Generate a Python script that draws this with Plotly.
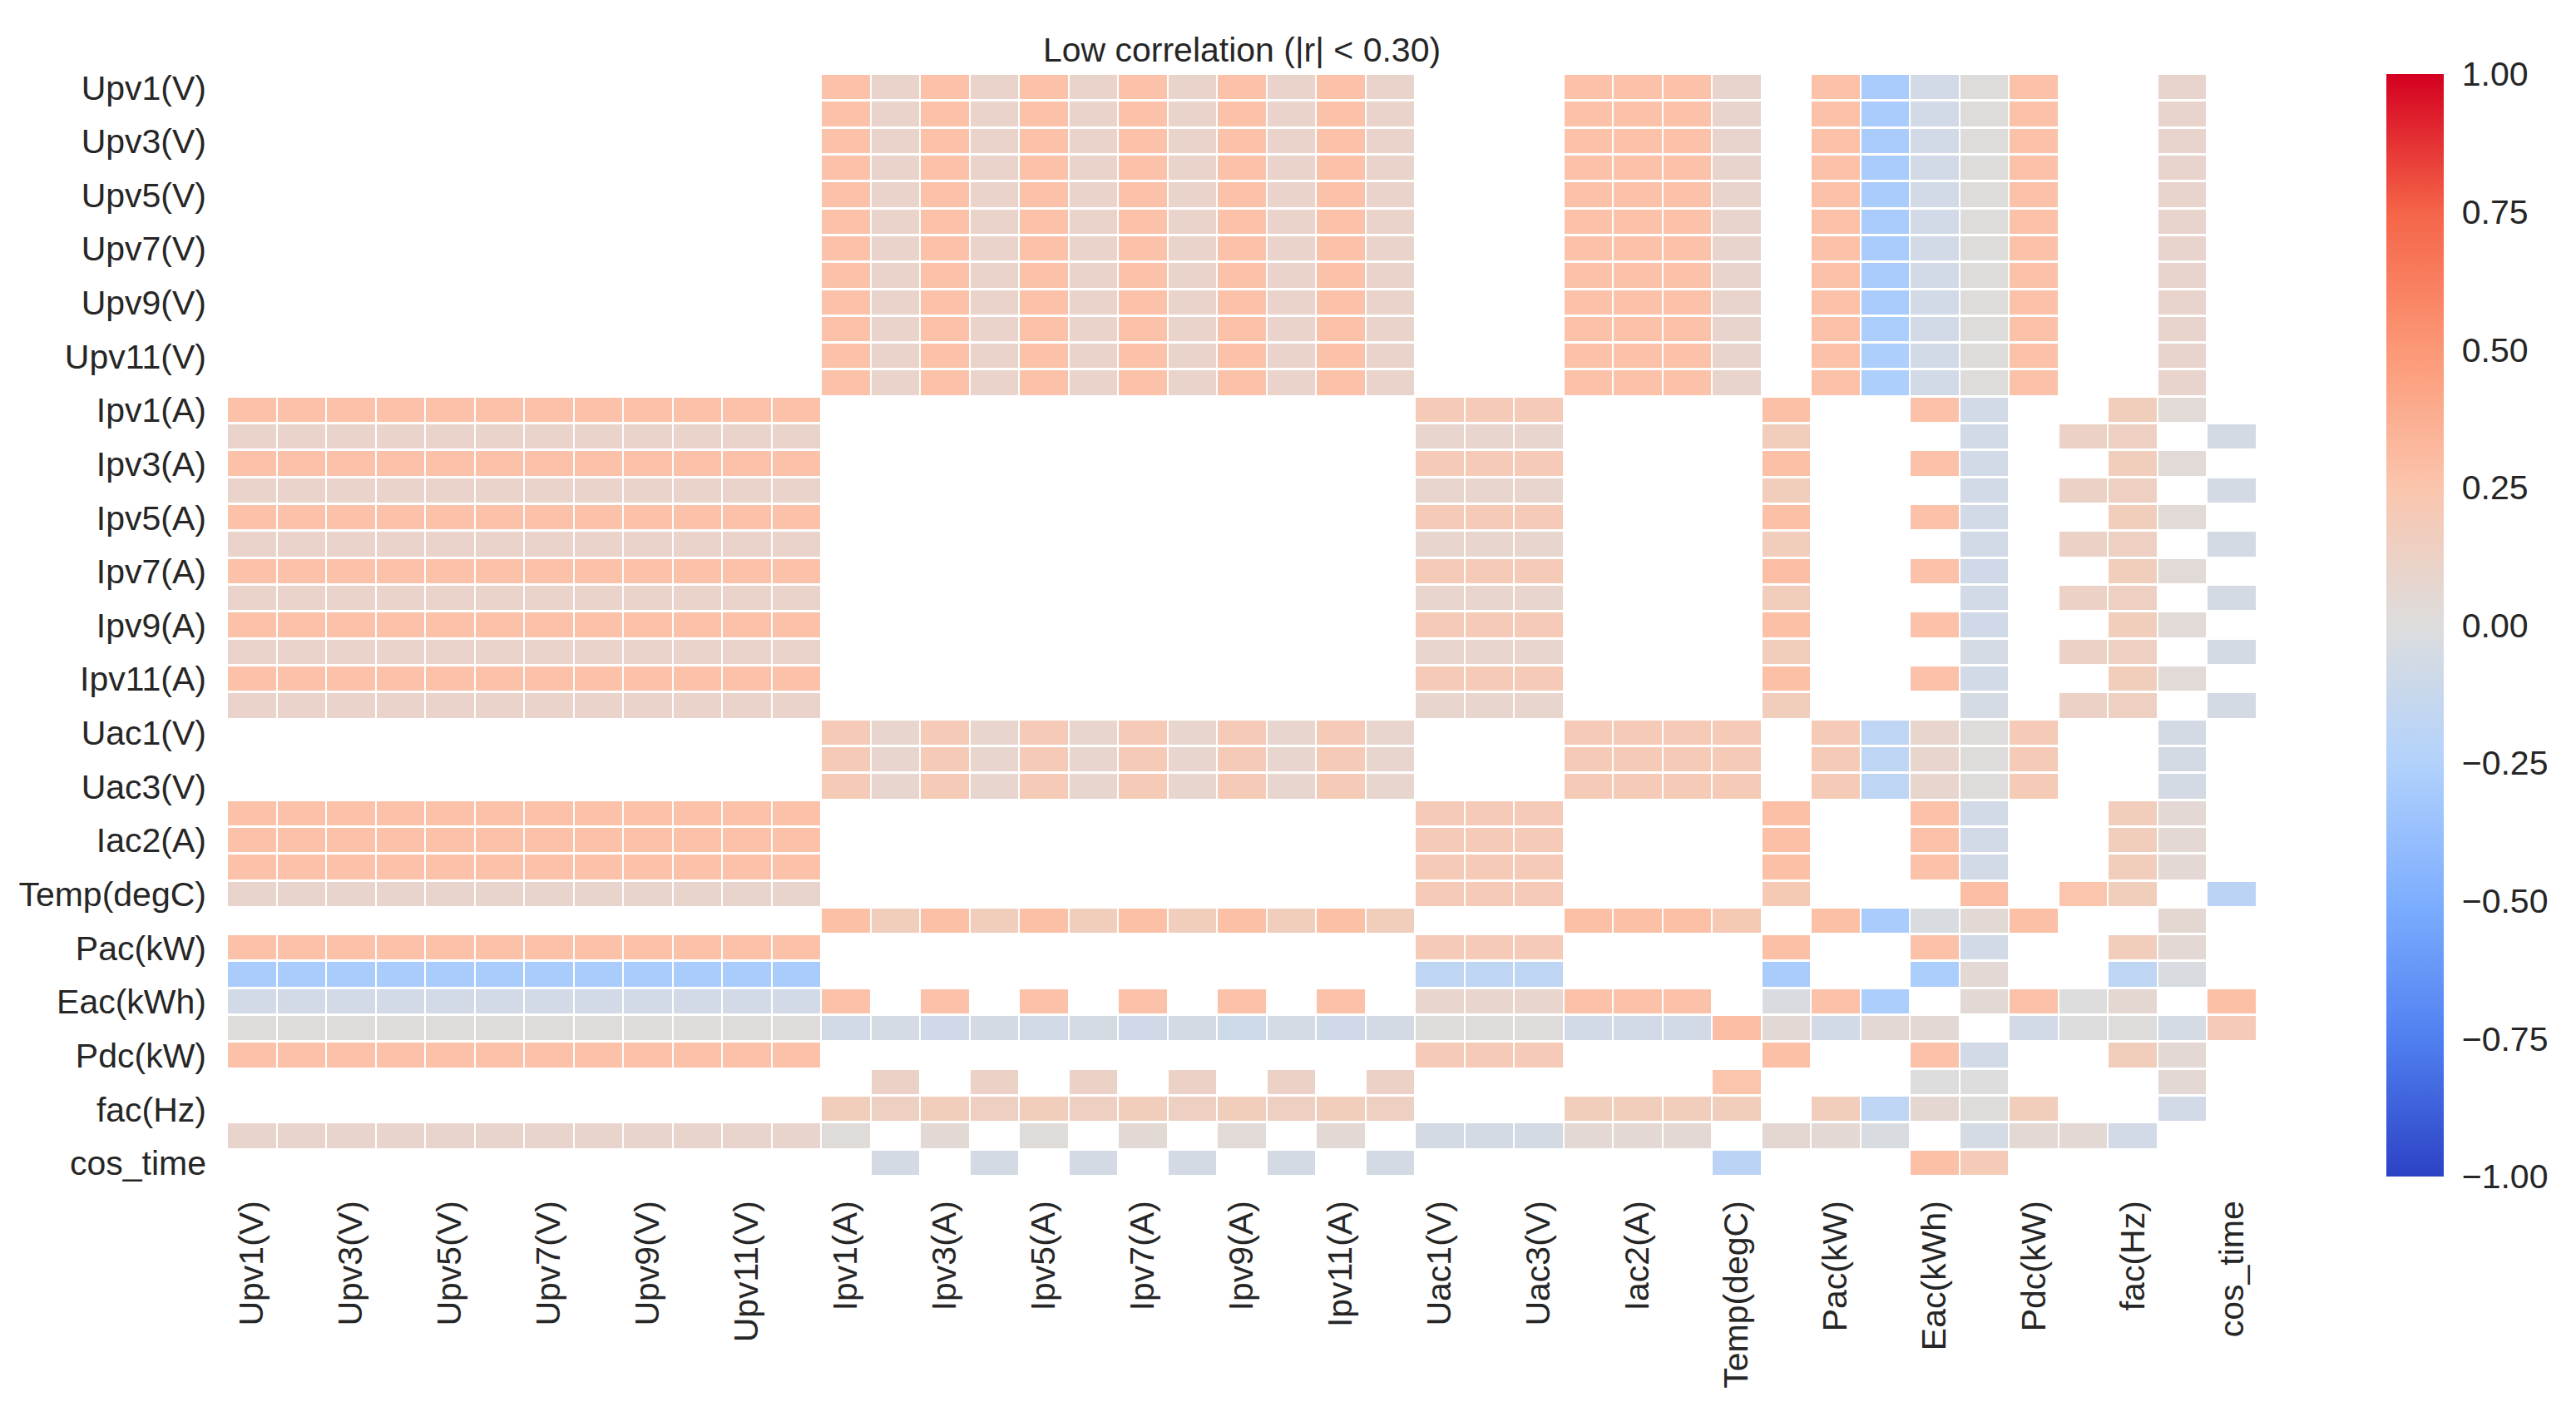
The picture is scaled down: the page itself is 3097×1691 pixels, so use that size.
# Heatmap of low correlations (|r| < 0.30) between inverter measurements
import plotly.graph_objects as go

_ = None  # masked cell (|r| >= 0.30)

# variable names (only every second one is printed on the axes)
labels = ["Upv1(V)", "Upv2(V)", "Upv3(V)", "Upv4(V)", "Upv5(V)", "Upv6(V)",
          "Upv7(V)", "Upv8(V)", "Upv9(V)", "Upv10(V)", "Upv11(V)", "Upv12(V)",
          "Ipv1(A)", "Ipv2(A)", "Ipv3(A)", "Ipv4(A)", "Ipv5(A)", "Ipv6(A)",
          "Ipv7(A)", "Ipv8(A)", "Ipv9(A)", "Ipv10(A)", "Ipv11(A)", "Ipv12(A)",
          "Uac1(V)", "Uac2(V)", "Uac3(V)", "Iac1(A)", "Iac2(A)", "Iac3(A)",
          "Temp(degC)", "Eff(%)", "Pac(kW)", "Qac(kVar)", "Eac(kWh)", "Etotal(kWh)",
          "Pdc(kW)", "PF", "fac(Hz)", "sin_time", "cos_time"]

# correlation rows (None = hidden)
row_upv1 = [_, _, _, _, _, _, _, _, _, _, _, _, .27, .10, .27, .10, .27, .10, .27, .10, .27, .10, .27, .10, _, _, _, .27, .27, .27, .09, _, .27, -.29, -.07, .01, .27, _, _, .09, _]
row_upv2 = [_, _, _, _, _, _, _, _, _, _, _, _, .27, .10, .27, .10, .27, .10, .27, .10, .27, .10, .27, .10, _, _, _, .27, .27, .27, .09, _, .27, -.29, -.07, .01, .27, _, _, .09, _]
row_upv3 = [_, _, _, _, _, _, _, _, _, _, _, _, .27, .10, .27, .10, .27, .10, .27, .10, .27, .10, .27, .10, _, _, _, .27, .27, .27, .09, _, .27, -.29, -.07, .01, .27, _, _, .09, _]
row_upv4 = [_, _, _, _, _, _, _, _, _, _, _, _, .27, .10, .27, .10, .27, .10, .27, .10, .27, .10, .27, .10, _, _, _, .27, .27, .27, .09, _, .27, -.29, -.07, .01, .27, _, _, .09, _]
row_upv5 = [_, _, _, _, _, _, _, _, _, _, _, _, .27, .10, .27, .10, .27, .10, .27, .10, .27, .10, .27, .10, _, _, _, .27, .27, .27, .09, _, .27, -.29, -.07, .01, .27, _, _, .09, _]
row_upv6 = [_, _, _, _, _, _, _, _, _, _, _, _, .27, .10, .27, .10, .27, .10, .27, .10, .27, .10, .27, .10, _, _, _, .27, .27, .27, .09, _, .27, -.29, -.07, .01, .27, _, _, .09, _]
row_upv7 = [_, _, _, _, _, _, _, _, _, _, _, _, .27, .10, .27, .10, .27, .10, .27, .10, .27, .10, .27, .10, _, _, _, .27, .27, .27, .09, _, .27, -.29, -.07, .01, .27, _, _, .09, _]
row_upv8 = [_, _, _, _, _, _, _, _, _, _, _, _, .27, .10, .27, .10, .27, .10, .27, .10, .27, .10, .27, .10, _, _, _, .27, .27, .27, .09, _, .27, -.29, -.07, .01, .27, _, _, .09, _]
row_upv9 = [_, _, _, _, _, _, _, _, _, _, _, _, .27, .10, .27, .10, .27, .10, .27, .10, .27, .10, .27, .10, _, _, _, .27, .27, .27, .09, _, .27, -.29, -.07, .01, .27, _, _, .09, _]
row_upv10 = [_, _, _, _, _, _, _, _, _, _, _, _, .27, .10, .27, .10, .27, .10, .27, .10, .27, .10, .27, .10, _, _, _, .27, .27, .27, .09, _, .27, -.28, -.07, .01, .27, _, _, .09, _]
row_upv11 = [_, _, _, _, _, _, _, _, _, _, _, _, .27, .10, .27, .10, .27, .10, .27, .10, .27, .10, .27, .10, _, _, _, .27, .27, .27, .09, _, .27, -.27, -.07, .01, .27, _, _, .09, _]
row_upv12 = [_, _, _, _, _, _, _, _, _, _, _, _, .27, .10, .27, .10, .27, .10, .27, .10, .27, .10, .27, .10, _, _, _, .27, .27, .27, .09, _, .27, -.27, -.07, .01, .27, _, _, .09, _]

row_ipv1 = [.27, .27, .27, .27, .27, .27, .27, .27, .27, .27, .27, .27, _, _, _, _, _, _, _, _, _, _, _, _, .20, .20, .20, _, _, _, _, .28, _, _, .27, -.07, _, _, .17, .03, _]
row_ipv2 = [.10, .10, .10, .10, .10, .10, .10, .10, .10, .10, .10, .10, _, _, _, _, _, _, _, _, _, _, _, _, .08, .08, .08, _, _, _, _, .17, _, _, _, -.07, _, .12, .14, _, -.06]
row_ipv3 = [.27, .27, .27, .27, .27, .27, .27, .27, .27, .27, .27, .27, _, _, _, _, _, _, _, _, _, _, _, _, .20, .20, .20, _, _, _, _, .28, _, _, .27, -.07, _, _, .17, .03, _]
row_ipv4 = [.10, .10, .10, .10, .10, .10, .10, .10, .10, .10, .10, .10, _, _, _, _, _, _, _, _, _, _, _, _, .08, .08, .08, _, _, _, _, .17, _, _, _, -.07, _, .12, .14, _, -.06]
row_ipv5 = [.27, .27, .27, .27, .27, .27, .27, .27, .27, .27, .27, .27, _, _, _, _, _, _, _, _, _, _, _, _, .20, .20, .20, _, _, _, _, .28, _, _, .27, -.07, _, _, .17, .03, _]
row_ipv6 = [.10, .10, .10, .10, .10, .10, .10, .10, .10, .10, .10, .10, _, _, _, _, _, _, _, _, _, _, _, _, .08, .08, .08, _, _, _, _, .17, _, _, _, -.07, _, .12, .14, _, -.06]
row_ipv7 = [.27, .27, .27, .27, .27, .27, .27, .27, .27, .27, .27, .27, _, _, _, _, _, _, _, _, _, _, _, _, .20, .20, .20, _, _, _, _, .29, _, _, .27, -.08, _, _, .17, .03, _]
row_ipv8 = [.10, .10, .10, .10, .10, .10, .10, .10, .10, .10, .10, .10, _, _, _, _, _, _, _, _, _, _, _, _, .08, .08, .08, _, _, _, _, .17, _, _, _, -.07, _, .12, .14, _, -.06]
row_ipv9 = [.27, .27, .27, .27, .27, .27, .27, .27, .27, .27, .27, .27, _, _, _, _, _, _, _, _, _, _, _, _, .20, .20, .20, _, _, _, _, .28, _, _, .27, -.08, _, _, .17, .03, _]
row_ipv10 = [.10, .10, .10, .10, .10, .10, .10, .10, .10, .10, .10, .10, _, _, _, _, _, _, _, _, _, _, _, _, .08, .08, .08, _, _, _, _, .17, _, _, _, -.05, _, .12, .14, _, -.06]
row_ipv11 = [.27, .27, .27, .27, .27, .27, .27, .27, .27, .27, .27, .27, _, _, _, _, _, _, _, _, _, _, _, _, .20, .20, .20, _, _, _, _, .28, _, _, .27, -.07, _, _, .17, .03, _]
row_ipv12 = [.10, .10, .10, .10, .10, .10, .10, .10, .10, .10, .10, .10, _, _, _, _, _, _, _, _, _, _, _, _, .08, .08, .08, _, _, _, _, .17, _, _, _, -.05, _, .12, .14, _, -.06]

row_uac1 = [_, _, _, _, _, _, _, _, _, _, _, _, .20, .08, .20, .08, .20, .08, .20, .08, .20, .08, .20, .08, _, _, _, .20, .20, .20, .20, _, .20, -.18, .08, .01, .20, _, _, -.06, _]
row_uac2 = [_, _, _, _, _, _, _, _, _, _, _, _, .20, .08, .20, .08, .20, .08, .20, .08, .20, .08, .20, .08, _, _, _, .20, .20, .20, .20, _, .20, -.18, .08, .01, .20, _, _, -.06, _]
row_uac3 = [_, _, _, _, _, _, _, _, _, _, _, _, .20, .08, .20, .08, .20, .08, .20, .08, .20, .08, .20, .08, _, _, _, .20, .20, .20, .20, _, .20, -.18, .08, .01, .20, _, _, -.06, _]
row_iac1 = [.27, .27, .27, .27, .27, .27, .27, .27, .27, .27, .27, .27, _, _, _, _, _, _, _, _, _, _, _, _, .20, .20, .20, _, _, _, _, .28, _, _, .27, -.07, _, _, .17, .05, _]
row_iac2 = [.27, .27, .27, .27, .27, .27, .27, .27, .27, .27, .27, .27, _, _, _, _, _, _, _, _, _, _, _, _, .20, .20, .20, _, _, _, _, .28, _, _, .27, -.07, _, _, .17, .05, _]
row_iac3 = [.27, .27, .27, .27, .27, .27, .27, .27, .27, .27, .27, .27, _, _, _, _, _, _, _, _, _, _, _, _, .20, .20, .20, _, _, _, _, .28, _, _, .27, -.07, _, _, .17, .05, _]
row_temp = [.09, .09, .09, .09, .09, .09, .09, .09, .09, .09, .09, .09, _, _, _, _, _, _, _, _, _, _, _, _, .20, .20, .20, _, _, _, _, .21, _, _, _, .29, _, .25, .17, _, -.20]
row_eff = [_, _, _, _, _, _, _, _, _, _, _, _, .28, .17, .28, .17, .28, .17, .28, .17, .28, .17, .28, .17, _, _, _, .28, .28, .28, .21, _, .28, -.29, -.03, .04, .28, _, _, .06, _]
row_pac = [.27, .27, .27, .27, .27, .27, .27, .27, .27, .27, .27, .27, _, _, _, _, _, _, _, _, _, _, _, _, .20, .20, .20, _, _, _, _, .28, _, _, .27, -.07, _, _, .17, .05, _]
row_qac = [-.29, -.29, -.29, -.29, -.29, -.29, -.29, -.29, -.29, -.29, -.29, -.29, _, _, _, _, _, _, _, _, _, _, _, _, -.18, -.18, -.18, _, _, _, _, -.29, _, _, -.28, .05, _, _, -.18, -.03, _]
row_eac = [-.07, -.07, -.07, -.07, -.07, -.07, -.07, -.07, -.07, -.07, -.07, -.07, .27, _, .27, _, .27, _, .27, _, .27, _, .27, _, .08, .08, .08, .27, .27, .27, _, -.03, .27, -.28, _, .04, .27, .00, .06, _, .28]
row_etot = [.01, .01, .01, .01, .01, .01, .01, .01, .01, .01, .01, .01, -.07, -.05, -.08, -.06, -.07, -.05, -.08, -.06, -.09, -.05, -.08, -.06, .01, .01, .01, -.07, -.07, -.07, .29, .04, -.07, .05, .04, _, -.07, .00, .01, -.05, .20]
row_pdc = [.27, .27, .27, .27, .27, .27, .27, .27, .27, .27, .27, .27, _, _, _, _, _, _, _, _, _, _, _, _, .20, .20, .20, _, _, _, _, .28, _, _, .27, -.07, _, _, .17, .05, _]
row_pf = [_, _, _, _, _, _, _, _, _, _, _, _, _, .12, _, .12, _, .12, _, .12, _, .12, _, .12, _, _, _, _, _, _, .25, _, _, _, .00, .00, _, _, _, .05, _]
row_fac = [_, _, _, _, _, _, _, _, _, _, _, _, .17, .14, .17, .14, .17, .14, .17, .14, .17, .14, .17, .14, _, _, _, .17, .17, .17, .17, _, .17, -.18, .06, .01, .17, _, _, -.07, _]
row_sin = [.09, .09, .09, .09, .09, .09, .09, .09, .09, .09, .09, .09, .02, _, .04, _, .02, _, .04, _, .03, _, .04, _, -.06, -.06, -.06, .05, .05, .05, _, .06, .05, -.03, _, -.05, .05, .05, -.07, _, _]
row_cos = [_, _, _, _, _, _, _, _, _, _, _, _, _, -.06, _, -.06, _, -.06, _, -.06, _, -.06, _, -.06, _, _, _, _, _, _, -.20, _, _, _, .28, .20, _, _, _, _, _]

# colour stops of the diverging map (value -1 .. 1)
cmap = [[0.0, "rgb(44,66,198)"], [0.125, "rgb(80,128,240)"], [0.25, "rgb(126,174,255)"],
        [0.375, "rgb(178,210,252)"], [0.5, "rgb(221,221,221)"], [0.625, "rgb(251,197,173)"],
        [0.75, "rgb(252,152,118)"], [0.875, "rgb(245,100,72)"], [1.0, "rgb(212,0,32)"]]

z = [row_upv1, row_upv2, row_upv3, row_upv4, row_upv5, row_upv6,
     row_upv7, row_upv8, row_upv9, row_upv10, row_upv11, row_upv12,
     row_ipv1, row_ipv2, row_ipv3, row_ipv4, row_ipv5, row_ipv6,
     row_ipv7, row_ipv8, row_ipv9, row_ipv10, row_ipv11, row_ipv12,
     row_uac1, row_uac2, row_uac3, row_iac1, row_iac2, row_iac3,
     row_temp, row_eff, row_pac, row_qac, row_eac, row_etot,
     row_pdc, row_pf, row_fac, row_sin, row_cos]

shown = labels[::2]
txt = "#262626"
font = "Arial, Liberation Sans, sans-serif"

fig = go.Figure()
fig.add_trace(go.Heatmap(
    z=z, x=labels, y=labels,
    zmin=-1, zmax=1, colorscale=cmap,
    xgap=2, ygap=3,
    hoverongaps=False,
    colorbar=dict(
        x=1.064, xanchor="left", y=0.5, yanchor="middle",
        len=1, lenmode="fraction", thickness=69, xpad=0, ypad=0,
        outlinewidth=0,
        tickvals=[-1, -0.75, -0.5, -0.25, 0, 0.25, 0.5, 0.75, 1],
        tickformat=".2f",
        ticks="outside", ticklen=14, tickcolor="rgba(0,0,0,0)",
        tickfont=dict(family=font, size=41, color=txt),
    ),
))

fig.update_layout(
    width=3097, height=1691,
    margin=dict(l=273, r=384, t=89, b=277),
    paper_bgcolor="white", plot_bgcolor="white",
    font=dict(family=font, size=41, color=txt),
    title=dict(text="Low correlation (|r| < 0.30)", x=0.5, xref="paper", xanchor="center",
               y=1 - 60 / 1691, yref="container", yanchor="middle",
               font=dict(family=font, size=41, color=txt)),
    xaxis=dict(type="category", tickvals=shown, ticktext=shown, tickangle=-90,
               showgrid=False, zeroline=False, showline=False, ticks="",
               ticklabelstandoff=20, tickfont=dict(size=41)),
    yaxis=dict(type="category", tickvals=shown, ticktext=shown, autorange="reversed",
               showgrid=False, zeroline=False, showline=False, ticks="",
               ticklabelstandoff=24, tickfont=dict(size=41)),
)

# no modebar, and drop the browser's default page margin
fig.write_html("out.html", config={"displayModeBar": False},
               post_script="document.body.style.margin = '0px';")
